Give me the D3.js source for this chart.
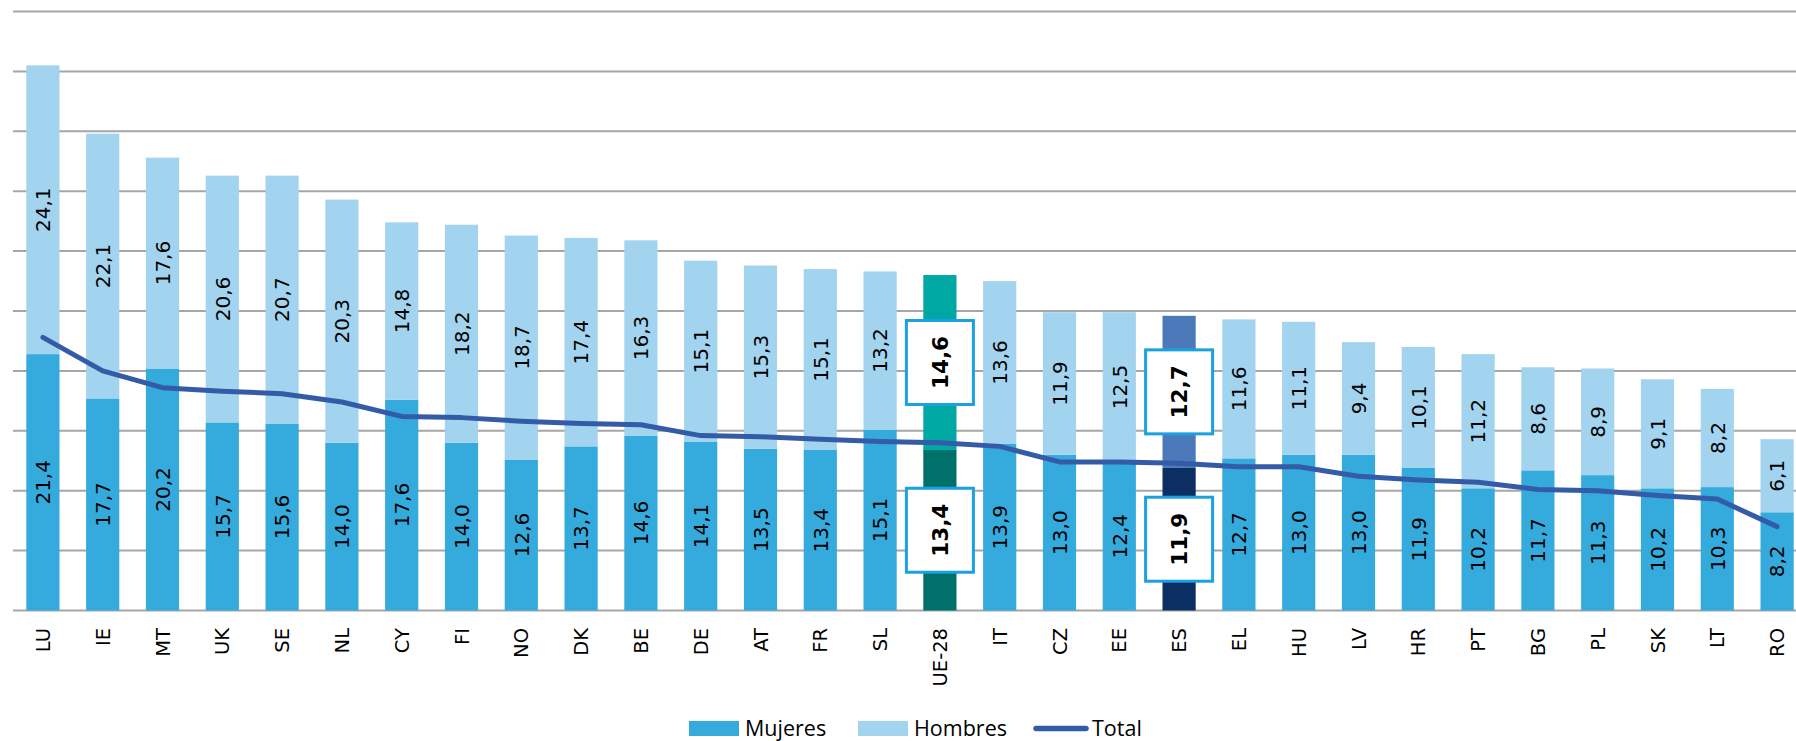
<!DOCTYPE html>
<html>
<head>
<meta charset="utf-8">
<script src="https://cdn.jsdelivr.net/npm/d3@7"></script>
<style>
  body { margin: 0; background: #fff; }
  .container svg { display: block; }
</style>
</head>
<body>
<div class="container"></div>
<script>
var categories = ["LU","IE","MT","UK","SE","NL","CY","FI","NO","DK","BE","DE","AT","FR","SL",
                  "UE-28","IT","CZ","EE","ES","EL","HU","LV","HR","PT","BG","PL","SK","LT","RO"];
var mujeres = [21.4,17.7,20.2,15.7,15.6,14.0,17.6,14.0,12.6,13.7,14.6,14.1,13.5,13.4,15.1,
               13.4,13.9,13.0,12.4,11.9,12.7,13.0,13.0,11.9,10.2,11.7,11.3,10.2,10.3,8.2];
var hombres = [24.1,22.1,17.6,20.6,20.7,20.3,14.8,18.2,18.7,17.4,16.3,15.1,15.3,15.1,13.2,
               14.6,13.6,11.9,12.5,12.7,11.6,11.1,9.4,10.1,11.2,8.6,8.9,9.1,8.2,6.1];
var total = [22.8,20.0,18.6,18.3,18.1,17.4,16.2,16.1,15.8,15.6,15.5,14.6,14.5,14.3,14.1,
             14.0,13.7,12.4,12.4,12.3,12.0,12.0,11.2,10.9,10.7,10.1,10.0,9.6,9.3,7.0];
var yTicks = [0,5,10,15,20,25,30,35,40,45,50];
var seriesNames = ["Mujeres","Hombres","Total"];

var loadChart = function(){
    var width = 1796, height = 741;
    var left = 13, step = 59.8, top = 11.5, bottom = 610.5;
    var colMuj = '#35aadc', colHom = '#a2d3ef', colTot = '#345ba7';
    var labelFont = 'DejaVu Sans';
    // highlighted bars get their own colours and boxed labels
    var special = {"UE-28": {muj: '#00706a', hom: '#00a8a3'},
                   "ES":    {muj: '#0b2e63', hom: '#4b79b9'}};
    var fmt = function(v){ return d3.format(".1f")(v).replace(".", ","); };

    var rows = categories.map(function(c, i){
        return {cat: c, muj: mujeres[i], hom: hombres[i], tot: total[i]};
    });

    var x = d3.scaleBand()
        .domain(categories)
        .range([left, left + step*categories.length])
        .paddingInner(0.445)
        .paddingOuter(0.2225);
    var y = d3.scaleLinear().domain([0,50]).range([bottom, top]);
    var cx = function(c){ return x(c) + x.bandwidth()/2; };

    var svg = d3.select('.container')
                .append('svg')
                .attr('width', width)
                .attr('height', height);

    // gridlines
    svg.selectAll('line.grid')
        .data(yTicks)
        .enter()
        .append('line')
        .attr('class','grid')
        .attr('x1', left)
        .attr('x2', width)
        .attr('y1', function(d){ return y(d); })
        .attr('y2', function(d){ return y(d); })
        .attr('stroke','#a6a6a6')
        .attr('stroke-width', 2);

    // Mujeres segment
    svg.selectAll('rect.muj')
        .data(rows)
        .enter()
        .append('rect')
        .attr('class','muj')
        .attr('x', function(d){ return x(d.cat); })
        .attr('width', x.bandwidth())
        .attr('y', function(d){ return y(d.muj); })
        .attr('height', function(d){ return y(0) - y(d.muj); })
        .attr('fill', function(d){ return special[d.cat] ? special[d.cat].muj : colMuj; });

    // Hombres segment stacked on top
    svg.selectAll('rect.hom')
        .data(rows)
        .enter()
        .append('rect')
        .attr('class','hom')
        .attr('x', function(d){ return x(d.cat); })
        .attr('width', x.bandwidth())
        .attr('y', function(d){ return y(d.muj + d.hom); })
        .attr('height', function(d){ return y(d.muj) - y(d.muj + d.hom); })
        .attr('fill', function(d){ return special[d.cat] ? special[d.cat].hom : colHom; });

    // total line
    var line = d3.line()
        .x(function(d){ return cx(d.cat); })
        .y(function(d){ return y(d.tot); });
    svg.append('path')
        .datum(rows)
        .attr('d', line)
        .attr('fill','none')
        .attr('stroke', colTot)
        .attr('stroke-width', 5)
        .attr('stroke-linecap','round')
        .attr('stroke-linejoin','round');

    // value labels, one per segment
    var labels = [];
    rows.forEach(function(d){
        labels.push({cat: d.cat, v: d.muj, mid: d.muj/2});
        labels.push({cat: d.cat, v: d.hom, mid: d.muj + d.hom/2});
    });

    var boxed = labels.filter(function(d){ return special[d.cat]; });
    svg.selectAll('rect.box')
        .data(boxed)
        .enter()
        .append('rect')
        .attr('class','box')
        .attr('x', function(d){ return cx(d.cat) - 33.5; })
        .attr('y', function(d){ return y(d.mid) - 42; })
        .attr('width', 67)
        .attr('height', 84)
        .attr('fill','#fff')
        .attr('stroke','#1ba1e2')
        .attr('stroke-width', 3);

    svg.selectAll('text.val')
        .data(labels)
        .enter()
        .append('text')
        .attr('class','val')
        .attr('transform', function(d){
            return 'translate(' + cx(d.cat) + ',' + y(d.mid) + ') rotate(-90)';
        })
        .attr('text-anchor','middle')
        .attr('dy','0.36em')
        .attr('font-family', labelFont)
        .attr('font-size', function(d){ return special[d.cat] ? 21.5 : 20; })
        .attr('font-weight', function(d){ return special[d.cat] ? 'bold' : 'normal'; })
        .attr('fill','#000')
        .text(function(d){ return fmt(d.v); });

    // category labels
    svg.selectAll('text.cat')
        .data(categories)
        .enter()
        .append('text')
        .attr('class','cat')
        .attr('transform', function(d){
            return 'translate(' + cx(d) + ',' + (bottom + 17.5) + ') rotate(-90)';
        })
        .attr('text-anchor','end')
        .attr('dy','0.36em')
        .attr('font-family', labelFont)
        .attr('font-size', 19.5)
        .attr('fill','#000')
        .text(function(d){ return d; });

    // legend
    var legend = svg.append('g').attr('transform','translate(689,728.5)');
    var items = [{name: seriesNames[0], x: 0,   type: 'rect', col: colMuj},
                 {name: seriesNames[1], x: 169, type: 'rect', col: colHom},
                 {name: seriesNames[2], x: 344, type: 'line', col: colTot}];
    items.forEach(function(it){
        if (it.type === 'rect') {
            legend.append('rect')
                .attr('x', it.x).attr('y', -7.5)
                .attr('width', 50).attr('height', 15)
                .attr('fill', it.col);
        } else {
            legend.append('line')
                .attr('x1', it.x + 3).attr('x2', it.x + 53)
                .attr('y1', 0).attr('y2', 0)
                .attr('stroke', it.col)
                .attr('stroke-width', 5.5)
                .attr('stroke-linecap','round');
        }
        legend.append('text')
            .attr('x', it.x + (it.type === 'rect' ? 56 : 59))
            .attr('y', 7)
            .attr('font-family','Open Sans')
            .attr('font-size', 21.5)
            .attr('fill','#000')
            .text(it.name);
    });
}
window.onload = loadChart;
</script>
</body>
</html>
